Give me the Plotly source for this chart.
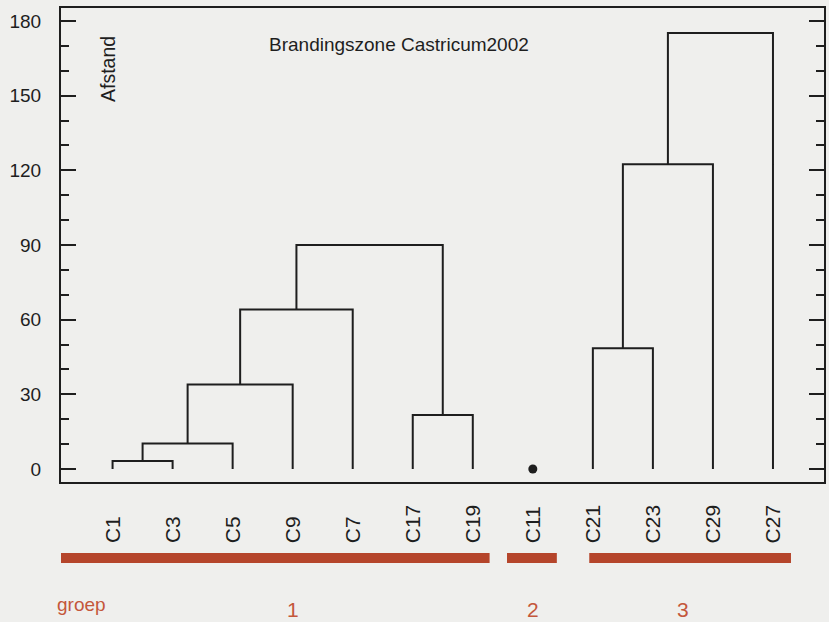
import plotly.graph_objects as go

# ---- data ----
leaf_labels = ["C1", "C3", "C5", "C9", "C7", "C17", "C19", "C11", "C21", "C23", "C29", "C27"]
# merges: (left child, right child, height); children are leaf labels or "m<i>" for earlier merges
merge_left = ["C1", "m0", "m1", "m2", "C17", "m3", "C21", "m6", "m7"]
merge_right = ["C3", "C5", "C9", "C7", "C19", "m4", "C23", "C29", "C27"]
merge_height = [3.2, 10.3, 34.0, 64.1, 21.7, 90.0, 48.5, 122.4, 175.2]
singletons = ["C11"]
group_names = ["1", "2", "3"]
group_first = ["C1", "C11", "C21"]
group_last = ["C19", "C11", "C27"]
y_ticks = [0, 30, 60, 90, 120, 150, 180]

# ---- style ----
BG = "#efefed"
INK = "#1e1e1e"
RED_BAR = "#b5452b"
RED_TXT = "#c4573b"
FONT = "Liberation Sans, Arial, sans-serif"
bar_pad_left = [0.96, 0.43, 0.06]
bar_pad_right = [0.28, 0.40, 0.30]

pos = {lab: i + 1 for i, lab in enumerate(leaf_labels)}
hgt = {lab: 0.0 for lab in leaf_labels}

xs, ys = [], []
for i, (a, b, h) in enumerate(zip(merge_left, merge_right, merge_height)):
    xa, xb = pos[a], pos[b]
    xs += [xa, xa, xb, xb, None]
    ys += [hgt[a], h, h, hgt[b], None]
    pos[f"m{i}"] = (xa + xb) / 2
    hgt[f"m{i}"] = h

fig = go.Figure()
fig.add_trace(go.Scatter(x=xs, y=ys, mode="lines",
                         line=dict(color=INK, width=2), hoverinfo="skip",
                         showlegend=False))
fig.add_trace(go.Scatter(x=[pos[s] for s in singletons], y=[0 for _ in singletons],
                         mode="markers", marker=dict(color=INK, size=9),
                         showlegend=False, cliponaxis=False))

annotations = []
for lab in leaf_labels:
    annotations.append(dict(x=pos[lab], y=-0.1329, xref="x", yref="paper",
                            text=lab, textangle=-90, showarrow=False,
                            xanchor="center", yanchor="bottom",
                            font=dict(family=FONT, size=21, color=INK)))

shapes = []
for gi, (name, f, l) in enumerate(zip(group_names, group_first, group_last)):
    x0 = pos[f] - bar_pad_left[gi]
    x1 = pos[l] + bar_pad_right[gi]
    shapes.append(dict(type="rect", xref="x", yref="paper", x0=x0, x1=x1,
                       y0=-0.1709, y1=-0.1498, fillcolor=RED_BAR,
                       line=dict(width=0), layer="above"))
    annotations.append(dict(x=(pos[f] + pos[l]) / 2, y=-0.27, xref="x", yref="paper",
                            text=name, showarrow=False, xanchor="center",
                            yanchor="middle",
                            font=dict(family=FONT, size=21, color=RED_TXT)))

annotations.append(dict(x=-0.008, y=-0.259, xref="paper", yref="paper",
                        text="groep", showarrow=False, xanchor="left",
                        yanchor="middle",
                        font=dict(family=FONT, size=19, color=RED_TXT)))
annotations.append(dict(x=0.2706, y=0.922, xref="paper", yref="paper",
                        text="Brandingszone Castricum2002", showarrow=False,
                        xanchor="left", yanchor="middle",
                        font=dict(family=FONT, size=19, color=INK)))
annotations.append(dict(x=0.0614, y=0.871, xref="paper", yref="paper",
                        text="Afstand", textangle=-90, showarrow=False,
                        xanchor="center", yanchor="middle",
                        font=dict(family=FONT, size=19.5, color=INK)))

fig.update_layout(
    width=829, height=622,
    margin=dict(l=61, r=3, t=8, b=140),
    paper_bgcolor=BG, plot_bgcolor=BG,
    showlegend=False,
    annotations=annotations,
    shapes=shapes,
    xaxis=dict(range=[0.141, 12.85], showgrid=False, zeroline=False,
               showticklabels=False, ticks="", showline=True, linewidth=2,
               linecolor=INK, mirror=True, fixedrange=True),
    yaxis=dict(range=[-5.2, 185.2], tickvals=y_ticks, showgrid=False,
               zeroline=False, ticks="inside", ticklen=15, tickwidth=2,
               tickcolor=INK, showline=True, linewidth=2, linecolor=INK,
               mirror="allticks", ticklabelstandoff=14,
               tickfont=dict(family=FONT, size=19, color=INK),
               minor=dict(dtick=10, tick0=0, ticks="inside", ticklen=8,
                          tickwidth=2, tickcolor=INK),
               fixedrange=True),
)

fig.write_html("out.html", config={"displayModeBar": False},
               post_script="document.body.style.margin='0';document.body.style.overflow='hidden';")
